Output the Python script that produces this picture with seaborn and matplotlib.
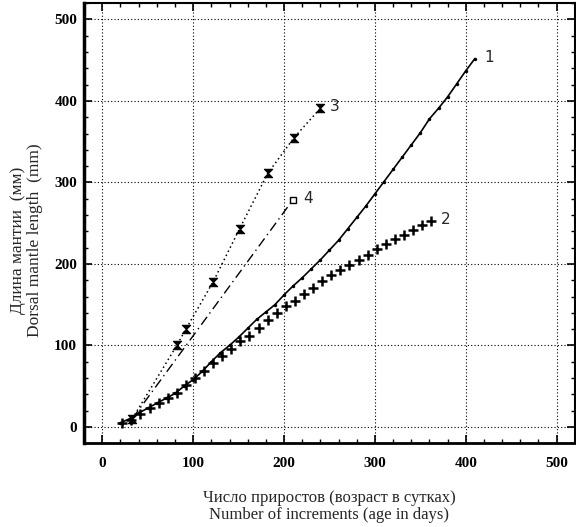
import matplotlib
matplotlib.use("Agg")
import matplotlib.pyplot as plt
from matplotlib.path import Path
from matplotlib.ticker import MultipleLocator
import seaborn as sns

# curve 1 (solid line, small dots)
age_1 = [20, 30, 40, 50, 60, 70, 80, 90, 100, 110, 120, 130, 140, 150, 160, 170, 180, 190, 200, 210,
         220, 230, 240, 250, 260, 270, 280, 290, 300, 310, 320, 330, 340, 350, 360, 370, 380, 390, 400, 410]
len_1 = [5, 10, 17, 23, 29, 35, 41, 50, 58, 68, 80, 91, 100, 110, 121, 132, 141, 150, 162, 173,
         183, 194, 205, 217, 229, 243, 257, 271, 286, 301, 316, 331, 346, 361, 378, 391, 405, 421, 437, 452]

# curve 2 (crosses)
age_2 = [22, 32, 42, 52, 62, 72, 82, 92, 102, 112, 122, 132, 142, 152, 162, 172, 182, 192,
         202, 212, 222, 232, 242, 252, 262, 272, 282, 292, 302, 312, 322, 332, 342, 352, 362]
len_2 = [5, 9, 16, 23, 29, 35, 42, 51, 60, 69, 78, 87, 95, 105, 112, 121, 131, 140,
         148, 155, 163, 171, 179, 186, 192, 199, 205, 211, 218, 224, 230, 236, 242, 248, 253]

# curve 3 (dotted, hourglass markers)
age_3 = [33, 82, 92, 122, 151, 182, 211, 240]
len_3 = [10, 100, 120, 178, 243, 311, 355, 391]

# curve 4 (dash-dot, square at the end)
age_4 = [33, 210]
len_4 = [10, 279]

curve_labels = ["1", "2", "3", "4"]

sns.set_style("ticks")
plt.rcParams["font.family"] = ["Liberation Serif", "DejaVu Serif"]

fig = plt.figure(figsize=(5.76, 5.27), dpi=100)
ax = fig.add_axes([0.146, 0.159, 0.852, 0.835])

hourglass = Path([(-1, 1), (1, 1), (-1, -1), (1, -1), (-1, 1)],
                 [Path.MOVETO, Path.LINETO, Path.LINETO, Path.LINETO, Path.CLOSEPOLY])

sns.lineplot(x=age_1, y=len_1, ax=ax, color="black", linewidth=1.2, marker="o",
             markersize=2.5, markeredgewidth=0, sort=False)
sns.lineplot(x=age_2, y=len_2, ax=ax, color="black", linestyle="none", marker="+",
             markersize=7, markeredgewidth=1.8, markeredgecolor="black", sort=False)
sns.lineplot(x=age_3, y=len_3, ax=ax, color="black", linewidth=1.1, linestyle=(0, (1, 2)),
             marker=hourglass, markersize=6, markeredgewidth=0.8, markeredgecolor="black",
             markerfacecolor="black", sort=False)
sns.lineplot(x=age_4, y=len_4, ax=ax, color="black", linewidth=1.0, linestyle=(0, (7, 3, 1, 3)),
             marker="s", markersize=5, markerfacecolor="white", markeredgecolor="black",
             markeredgewidth=1.0, markevery=[1], sort=False)

# curve numbers next to the ends
for lab, xs, ys in zip(curve_labels, [age_1, age_2, age_3, age_4], [len_1, len_2, len_3, len_4]):
    ax.annotate(lab, (xs[-1], ys[-1]), xytext=(7, 1), textcoords="offset points",
                fontsize=11, family="DejaVu Sans", va="center", ha="left")

ax.set_xlim(-20, 520)
ax.set_ylim(-20, 520)
ax.xaxis.set_major_locator(MultipleLocator(100))
ax.xaxis.set_minor_locator(MultipleLocator(20))
ax.yaxis.set_major_locator(MultipleLocator(100))
ax.yaxis.set_minor_locator(MultipleLocator(20))
ax.tick_params(which="both", direction="in", top=True, right=True, colors="black")
ax.tick_params(which="major", length=6, width=1.2, labelsize=11)
ax.tick_params(axis="x", which="major", pad=10)
ax.tick_params(axis="y", which="major", pad=5)
ax.tick_params(which="minor", length=3, width=1.0)
for t in ax.get_xticklabels() + ax.get_yticklabels():
    t.set_fontweight("bold")
for s in ax.spines.values():
    s.set_linewidth(1.5)
    s.set_color("black")
ax.spines["left"].set_linewidth(2.5)
ax.spines["bottom"].set_linewidth(2.0)

ax.grid(True, which="major", color="black", linestyle=(0, (1, 2)), linewidth=0.8)

ax.set_xlabel("Число приростов (возраст в сутках)\nNumber of increments (age in days)",
              fontsize=12, labelpad=14, linespacing=1.1)
ax.set_ylabel("Длина мантии  (мм)\nDorsal mantle length  (mm)", fontsize=12.5,
              linespacing=1.1)
ax.yaxis.set_label_coords(-0.083, 0.461)

fig.savefig("out.png", dpi=100)
